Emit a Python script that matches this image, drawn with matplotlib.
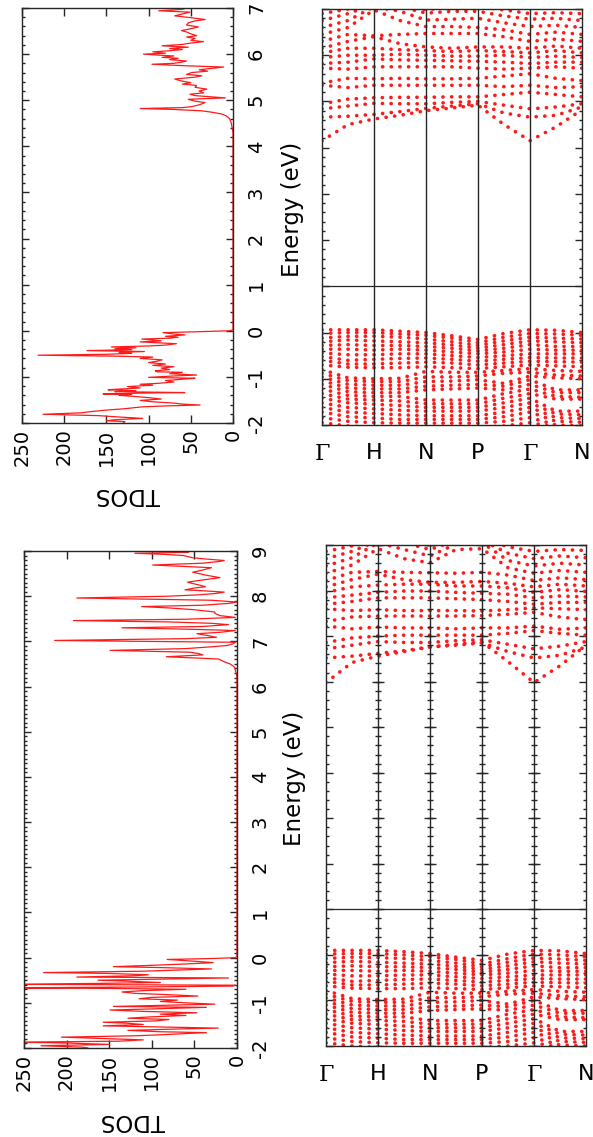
import numpy as np
import matplotlib
matplotlib.use('Agg')
import matplotlib.pyplot as plt
from matplotlib.ticker import MultipleLocator

plt.rcParams['font.family'] = 'DejaVu Sans'
plt.rcParams['axes.unicode_minus'] = False

# ---------------- data ----------------
# upper row: TDOS (energy in eV, states)
tdos_top_e = [-2.00, -1.97, -1.95, -1.93, -1.90, -1.87, -1.84, -1.81, -1.78, -1.75, -1.72, -1.69,
              -1.65, -1.63, -1.61, -1.59, -1.57, -1.54, -1.51, -1.48, -1.45, -1.42, -1.40, -1.38,
              -1.37, -1.35, -1.34, -1.32, -1.30, -1.28, -1.27, -1.24, -1.21, -1.18, -1.16, -1.14,
              -1.11, -1.08, -1.05, -1.03, -1.01, -0.98, -0.96, -0.93, -0.90, -0.89, -0.87, -0.84,
              -0.81, -0.78, -0.75, -0.72, -0.69, -0.66, -0.63, -0.60, -0.57, -0.55, -0.53, -0.51,
              -0.49, -0.47, -0.45, -0.43, -0.41, -0.39, -0.37, -0.35, -0.33, -0.31, -0.28, -0.26,
              -0.24, -0.22, -0.20, -0.18, -0.16, -0.14, -0.12, -0.09, -0.07, -0.04, -0.02, 0.00,
              0.02, 4.30, 4.40, 4.50, 4.60, 4.66, 4.70, 4.74, 4.77, 4.80, 4.82, 4.84, 4.86, 4.90,
              4.95, 4.98, 5.02, 5.05, 5.08, 5.10, 5.13, 5.16, 5.20, 5.24, 5.28, 5.32, 5.35, 5.38,
              5.42, 5.46, 5.50, 5.53, 5.56, 5.60, 5.63, 5.66, 5.70, 5.72, 5.75, 5.78, 5.80, 5.83,
              5.85, 5.88, 5.91, 5.93, 5.96, 5.98, 6.00, 6.02, 6.05, 6.07, 6.10, 6.12, 6.15, 6.18,
              6.21, 6.24, 6.27, 6.30, 6.34, 6.37, 6.40, 6.44, 6.48, 6.51, 6.55, 6.59, 6.63, 6.68,
              6.72, 6.75, 6.79, 6.83, 6.87, 6.91, 6.94, 6.97, 7.00]
tdos_top_v = [130, 128, 150, 140, 107, 135, 160, 225, 180, 167, 150, 128,
              108, 80, 39, 60, 69, 95, 110, 85, 100, 120, 135, 120,
              154, 105, 57, 140, 115, 148, 140, 110, 125, 95, 110, 89,
              70, 80, 60, 45, 100, 70, 43, 75, 60, 90, 92, 75,
              85, 70, 95, 80, 100, 90, 84, 110, 95, 140, 231, 150,
              120, 135, 105, 173, 120, 140, 115, 144, 100, 80, 67, 90,
              110, 85, 95, 108, 75, 65, 80, 57, 70, 83, 40, 5,
              0, 0, 1, 2, 4, 8, 13, 25, 37, 70, 110, 60, 49, 40,
              33, 45, 53, 9, 30, 45, 51, 35, 40, 31, 45, 43, 60, 50,
              62, 69, 45, 37, 55, 49, 30, 40, 20, 11, 60, 96, 70, 60,
              55, 75, 65, 84, 70, 90, 106, 80, 95, 77, 60, 75, 53, 84,
              60, 50, 35, 50, 45, 55, 43, 50, 55, 61, 50, 41, 55, 53,
              45, 33, 50, 69, 60, 51, 88, 60, 55]

# lower row: TDOS
tdos_bot_e = [-2.00, -1.98, -1.95, -1.92, -1.89, -1.87, -1.85, -1.82, -1.79, -1.76, -1.73, -1.70,
              -1.68, -1.66, -1.64, -1.61, -1.58, -1.56, -1.53, -1.51, -1.48, -1.45, -1.43, -1.40,
              -1.37, -1.34, -1.31, -1.28, -1.25, -1.22, -1.19, -1.16, -1.13, -1.10, -1.08, -1.05,
              -1.03, -1.00, -0.97, -0.94, -0.91, -0.88, -0.85, -0.82, -0.79, -0.76, -0.73, -0.70,
              -0.68, -0.67, -0.65, -0.63, -0.61, -0.59, -0.57, -0.55, -0.52, -0.50, -0.47, -0.45,
              -0.43, -0.40, -0.38, -0.35, -0.33, -0.30, -0.27, -0.25, -0.22, -0.20, -0.17, -0.14,
              -0.11, -0.08, -0.04, -0.02, 0.00, 0.03, 6.20, 6.30, 6.43, 6.50, 6.54, 6.61, 6.66,
              6.70, 6.73, 6.76, 6.80, 6.84, 6.88, 6.91, 6.95, 6.98, 7.02, 7.06, 7.09, 7.13, 7.17,
              7.20, 7.24, 7.27, 7.30, 7.33, 7.37, 7.40, 7.43, 7.46, 7.49, 7.53, 7.57, 7.62, 7.65,
              7.70, 7.74, 7.77, 7.80, 7.84, 7.87, 7.91, 7.96, 8.00, 8.03, 8.06, 8.09, 8.12, 8.14,
              8.18, 8.21, 8.25, 8.28, 8.31, 8.36, 8.41, 8.46, 8.50, 8.53, 8.58, 8.63, 8.69, 8.73,
              8.77, 8.79, 8.82, 8.85, 8.90, 8.93, 8.95, 8.97, 9.00]
tdos_bot_v = [175, 182, 230, 150, 200, 260, 140, 110, 160, 206, 120, 80,
              60, 36, 90, 128, 70, 22, 100, 157, 110, 130, 157, 95,
              80, 128, 100, 60, 90, 47, 110, 149, 90, 36, 145, 70,
              26, 60, 90, 70, 115, 100, 46, 80, 120, 135, 110, 60,
              160, 270, 120, 5, 2, 270, 160, 90, 130, 163, 70, 10,
              188, 120, 104, 150, 227, 110, 60, 30, 90, 145, 100, 60,
              28, 50, 82, 30, 2, 0, 0, 1, 3, 8, 14, 22, 83,
              40, 45, 55, 149, 60, 30, 11, 4, 2, 214, 60, 24, 35, 47,
              20, 2, 60, 135, 40, 10, 30, 80, 192, 60, 2, 20, 26, 26,
              50, 80, 112, 40, 10, 0, 30, 188, 80, 45, 25, 15, 40, 61,
              50, 37, 45, 52, 58, 40, 20, 35, 45, 52, 40, 30, 99, 40,
              20, 15, 35, 52, 63, 90, 120, 57, 60]

tdos_ticks = [0, 50, 100, 150, 200, 250]

# band structure: energies at G, G-H, H, H-N, N, N-P, P, P-G, G, G-N, N
k_knots = [0, 0.5, 1, 1.5, 2, 2.5, 3, 3.5, 4, 4.5, 5]
k_labels = ['Γ', 'H', 'N', 'P', 'Γ', 'N']
ref_level = 1.0

cb_top = [
    [4.15, 4.50, 4.62, 4.70, 4.80, 4.86, 4.92, 4.50, 4.15, 4.45, 4.82],
    [4.66, 4.68, 4.72, 4.78, 4.85, 4.90, 4.95, 4.75, 4.66, 4.70, 4.88],
    [4.84, 4.90, 4.96, 4.95, 4.95, 4.98, 5.00, 4.92, 4.84, 4.88, 4.95],
    [4.95, 5.05, 5.08, 5.09, 5.09, 5.10, 5.10, 5.15, 5.20, 5.15, 5.10],
    [5.35, 5.30, 5.35, 5.35, 5.35, 5.35, 5.35, 5.32, 5.35, 5.30, 5.32],
    [5.40, 5.50, 5.49, 5.50, 5.49, 5.49, 5.50, 5.55, 5.60, 5.50, 5.45],
    [5.72, 5.70, 5.75, 5.75, 5.75, 5.75, 5.72, 5.70, 5.72, 5.75, 5.72],
    [5.82, 5.85, 5.92, 5.90, 5.89, 5.88, 5.87, 5.85, 5.82, 5.85, 5.85],
    [5.95, 6.00, 6.00, 6.02, 6.00, 5.98, 5.98, 6.00, 5.95, 5.98, 5.95],
    [6.05, 6.15, 6.15, 6.12, 6.10, 6.08, 6.10, 6.08, 6.05, 6.10, 6.05],
    [6.15, 6.30, 6.40, 6.25, 6.18, 6.15, 6.18, 6.18, 6.15, 6.20, 6.15],
    [6.30, 6.45, 6.42, 6.45, 6.47, 6.47, 6.47, 6.40, 6.30, 6.35, 6.30],
    [6.45, 6.60, 6.98, 6.75, 6.62, 6.62, 6.60, 6.55, 6.45, 6.50, 6.45],
    [6.60, 6.75, 7.05, 6.95, 6.76, 6.78, 6.80, 6.70, 6.62, 6.65, 6.60],
    [6.75, 6.90, 7.10, 7.05, 6.91, 6.95, 6.95, 6.85, 6.78, 6.80, 6.75],
    [6.90, 7.00, 7.15, 7.10, 6.98, 7.05, 7.05, 6.98, 6.90, 6.92, 6.90],
]
vb_top = [
    [0.06, 0.06, 0.06, 0.03, 0.00, -0.07, -0.15, -0.02, 0.06, 0.05, 0.00],
    [-0.02, 0.00, 0.00, -0.03, -0.06, -0.12, -0.22, -0.10, -0.02, -0.03, -0.06],
    [-0.12, -0.08, -0.08, -0.10, -0.14, -0.20, -0.28, -0.18, -0.10, -0.12, -0.14],
    [-0.20, -0.16, -0.18, -0.20, -0.22, -0.27, -0.34, -0.26, -0.18, -0.20, -0.22],
    [-0.28, -0.26, -0.28, -0.28, -0.30, -0.34, -0.40, -0.34, -0.26, -0.30, -0.30],
    [-0.36, -0.36, -0.38, -0.36, -0.38, -0.42, -0.46, -0.42, -0.36, -0.38, -0.38],
    [-0.44, -0.48, -0.48, -0.46, -0.46, -0.50, -0.54, -0.50, -0.46, -0.46, -0.46],
    [-0.52, -0.60, -0.58, -0.56, -0.55, -0.58, -0.62, -0.58, -0.54, -0.55, -0.55],
    [-0.60, -0.68, -0.68, -0.66, -0.64, -0.66, -0.70, -0.66, -0.62, -0.63, -0.64],
    [-0.70, -0.75, -0.76, -0.76, -0.74, -0.76, -0.78, -0.74, -0.70, -0.72, -0.74],
    [-0.80, -0.98, -1.00, -0.99, -0.84, -0.86, -0.86, -0.82, -0.78, -0.82, -0.84],
    [-0.88, -1.04, -1.06, -1.06, -0.96, -0.96, -0.94, -0.88, -0.86, -0.92, -0.94],
    [-0.96, -1.12, -1.14, -1.14, -1.06, -1.05, -1.02, -1.10, -0.94, -0.98, -1.00],
    [-1.04, -1.20, -1.22, -1.22, -1.16, -1.14, -1.12, -1.16, -1.02, -1.24, -1.24],
    [-1.12, -1.28, -1.30, -1.30, -1.24, -1.22, -1.20, -1.24, -1.12, -1.30, -1.30],
    [-1.22, -1.36, -1.38, -1.38, -1.46, -1.46, -1.46, -1.32, -1.22, -1.38, -1.40],
    [-1.32, -1.44, -1.46, -1.48, -1.54, -1.54, -1.54, -1.42, -1.32, -1.44, -1.44],
    [-1.42, -1.52, -1.55, -1.58, -1.62, -1.62, -1.62, -1.52, -1.42, -1.70, -1.70],
    [-1.52, -1.62, -1.65, -1.68, -1.70, -1.70, -1.70, -1.62, -1.52, -1.76, -1.78],
    [-1.62, -1.72, -1.75, -1.78, -1.80, -1.80, -1.80, -1.72, -1.62, -1.84, -1.86],
    [-1.72, -1.82, -1.85, -1.88, -1.88, -1.88, -1.88, -1.82, -1.72, -1.92, -1.94],
    [-1.84, -1.92, -1.95, -1.96, -1.96, -1.96, -1.96, -1.92, -1.84, -2.00, -2.02],
    [-1.95, -2.02, -2.05, -2.05, -2.05, -2.05, -2.05, -2.02, -1.95, -2.05, -2.05],
]

cb_bot = [
    [5.98, 6.42, 6.56, 6.66, 6.76, 6.82, 6.87, 6.44, 5.98, 6.35, 6.80],
    [6.52, 6.56, 6.62, 6.68, 6.76, 6.80, 6.85, 6.66, 6.52, 6.58, 6.76],
    [6.72, 6.80, 6.88, 6.86, 6.86, 6.90, 6.92, 6.82, 6.72, 6.78, 6.88],
    [6.86, 6.96, 7.00, 7.02, 7.02, 7.02, 7.02, 7.06, 7.12, 7.06, 7.02],
    [7.22, 7.16, 7.20, 7.18, 7.18, 7.16, 7.18, 7.18, 7.22, 7.15, 7.18],
    [7.32, 7.42, 7.44, 7.44, 7.44, 7.44, 7.45, 7.48, 7.52, 7.42, 7.36],
    [7.60, 7.56, 7.58, 7.56, 7.56, 7.56, 7.55, 7.58, 7.62, 7.60, 7.58],
    [7.70, 7.76, 7.84, 7.84, 7.84, 7.82, 7.80, 7.76, 7.70, 7.74, 7.74],
    [7.84, 7.90, 7.96, 7.99, 7.99, 7.96, 7.94, 7.92, 7.84, 7.88, 7.86],
    [7.96, 8.08, 8.12, 8.14, 8.14, 8.10, 8.10, 8.06, 7.96, 8.02, 7.98],
    [8.08, 8.24, 8.36, 8.24, 8.18, 8.18, 8.20, 8.16, 8.08, 8.14, 8.10],
    [8.22, 8.40, 8.42, 8.40, 8.39, 8.38, 8.40, 8.34, 8.22, 8.28, 8.24],
    [8.38, 8.56, 8.92, 8.70, 8.61, 8.90, 8.92, 8.50, 8.38, 8.44, 8.40],
    [8.54, 8.72, 9.05, 8.90, 8.76, 9.02, 9.05, 8.66, 8.54, 8.60, 8.56],
    [8.70, 8.86, 9.10, 9.05, 8.90, 9.10, 9.10, 8.82, 8.70, 8.76, 8.72],
    [8.86, 8.98, 9.15, 9.10, 9.00, 9.15, 9.15, 8.96, 8.86, 8.90, 8.88],
]
vb_bot = [
    [0.10, 0.10, 0.10, 0.07, 0.03, -0.05, -0.12, 0.02, 0.10, 0.09, 0.03],
    [0.02, 0.03, 0.03, 0.00, -0.04, -0.10, -0.20, -0.08, 0.02, 0.00, -0.04],
    [-0.08, -0.05, -0.06, -0.08, -0.12, -0.18, -0.26, -0.16, -0.07, -0.09, -0.12],
    [-0.17, -0.14, -0.16, -0.18, -0.20, -0.25, -0.32, -0.24, -0.15, -0.18, -0.20],
    [-0.26, -0.24, -0.26, -0.26, -0.28, -0.32, -0.38, -0.32, -0.24, -0.28, -0.28],
    [-0.34, -0.34, -0.36, -0.34, -0.36, -0.40, -0.44, -0.40, -0.34, -0.36, -0.36],
    [-0.42, -0.46, -0.46, -0.44, -0.44, -0.48, -0.52, -0.48, -0.44, -0.44, -0.44],
    [-0.50, -0.58, -0.56, -0.54, -0.53, -0.56, -0.60, -0.56, -0.52, -0.53, -0.53],
    [-0.58, -0.66, -0.66, -0.64, -0.62, -0.64, -0.68, -0.64, -0.60, -0.61, -0.62],
    [-0.68, -0.73, -0.74, -0.74, -0.72, -0.74, -0.76, -0.72, -0.68, -0.70, -0.72],
    [-0.78, -0.96, -0.98, -0.97, -0.82, -0.84, -0.84, -0.80, -0.76, -0.80, -0.82],
    [-0.86, -1.02, -1.04, -1.04, -0.94, -0.94, -0.92, -0.86, -0.84, -0.90, -0.92],
    [-0.94, -1.10, -1.12, -1.12, -1.04, -1.03, -1.00, -1.08, -0.92, -0.96, -0.98],
    [-1.02, -1.18, -1.20, -1.20, -1.14, -1.12, -1.10, -1.14, -1.00, -1.22, -1.22],
    [-1.10, -1.26, -1.28, -1.28, -1.22, -1.20, -1.18, -1.22, -1.10, -1.28, -1.28],
    [-1.20, -1.34, -1.36, -1.36, -1.44, -1.44, -1.44, -1.30, -1.20, -1.36, -1.38],
    [-1.30, -1.42, -1.44, -1.46, -1.52, -1.52, -1.52, -1.40, -1.30, -1.42, -1.42],
    [-1.40, -1.50, -1.53, -1.56, -1.60, -1.60, -1.60, -1.50, -1.40, -1.68, -1.68],
    [-1.50, -1.60, -1.63, -1.66, -1.68, -1.68, -1.68, -1.60, -1.50, -1.74, -1.76],
    [-1.60, -1.70, -1.73, -1.76, -1.78, -1.78, -1.78, -1.70, -1.60, -1.82, -1.84],
    [-1.70, -1.80, -1.83, -1.86, -1.86, -1.86, -1.86, -1.80, -1.70, -1.90, -1.92],
    [-1.82, -1.90, -1.93, -1.94, -1.94, -1.94, -1.94, -1.90, -1.82, -1.98, -2.00],
    [-1.93, -2.00, -2.03, -2.03, -2.03, -2.03, -2.03, -2.00, -1.93, -2.03, -2.03],
]

AXCOL = '#262626'
RED = '#ff1a1a'


def styleSpines(ax):
    for s in ax.spines.values():
        s.set_color(AXCOL)
        s.set_linewidth(1.0)


# TDOS panel, drawn lying on its side (energy runs upwards)
def tdosPanel(ax, energy, dos, emax, minorStep):
    ax.plot(dos, energy, color=RED, lw=0.9)
    ax.set_xlim(250, 0)
    ax.set_ylim(-2, emax)
    ax.set_xticks(tdos_ticks)
    ax.set_xticklabels([str(t) for t in tdos_ticks])
    ax.yaxis.set_major_locator(MultipleLocator(1))
    ax.yaxis.set_minor_locator(MultipleLocator(minorStep))
    ax.tick_params(axis='x', which='major', direction='in', top=True, bottom=True,
                   length=6, width=1, color=AXCOL, labelsize=14, labelrotation=90, pad=4)
    ax.tick_params(axis='y', which='both', direction='in', left=True, right=True,
                   labelleft=False, labelright=True, labelsize=14, labelrotation=90,
                   width=1, color=AXCOL, pad=10)
    ax.tick_params(axis='y', which='major', length=5)
    ax.tick_params(axis='y', which='minor', length=2.5)
    for lbl in ax.get_yticklabels():
        lbl.set_va('center')
    styleSpines(ax)


# band structure panel
def bandPanel(ax, cbands, vbands, emax, lineTicks):
    for band in cbands + vbands:
        ax.plot(k_knots, band, color=RED, lw=2.6, ls=(0, (0.05, 2.35)),
                dash_capstyle='round')
    for kk in range(1, len(k_labels) - 1):
        ax.axvline(kk, color=AXCOL, lw=1.0)
    ax.axhline(ref_level, color=AXCOL, lw=0.9)
    ax.set_xlim(0, len(k_labels) - 1)
    ax.set_ylim(-2, emax)
    ax.set_xticks(range(len(k_labels)))
    ax.set_xticklabels(k_labels)
    for lbl in ax.get_xticklabels():
        if lbl.get_text() == 'Γ':
            lbl.set_family('DejaVu Serif')
    ax.tick_params(axis='x', length=0, labelsize=16, pad=13)
    ax.yaxis.set_major_locator(MultipleLocator(1))
    ax.yaxis.set_minor_locator(MultipleLocator(0.2))
    ax.tick_params(axis='y', which='both', direction='in', left=True, right=True,
                   labelleft=False, width=1, color=AXCOL)
    ax.tick_params(axis='y', which='major', length=5)
    ax.tick_params(axis='y', which='minor', length=2.5)
    if lineTicks:
        majorE = np.arange(-2, emax + 0.01, 1.0)
        minorE = np.arange(-2, emax + 0.01, 0.2)
        for kk in range(1, len(k_labels) - 1):
            ax.plot(np.full(len(minorE), kk), minorE, ls='none', marker='_',
                    ms=4.5, mew=1.0, color=AXCOL)
            ax.plot(np.full(len(majorE), kk), majorE, ls='none', marker='_',
                    ms=9, mew=1.0, color=AXCOL)
    styleSpines(ax)


fig = plt.figure(figsize=(5.93, 11.37), dpi=100)
W, H = 593.0, 1137.0


def box(x0, y0, x1, y1):
    return [x0 / W, 1 - y1 / H, (x1 - x0) / W, (y1 - y0) / H]


axTdosTop = fig.add_axes(box(22, 8, 233, 423))
axBandTop = fig.add_axes(box(322, 9, 582, 425))
axTdosBot = fig.add_axes(box(24, 551, 237, 1048))
axBandBot = fig.add_axes(box(326, 545, 586, 1046))

tdosPanel(axTdosTop, tdos_top_e, tdos_top_v, 7, 0.2)
tdosPanel(axTdosBot, tdos_bot_e, tdos_bot_v, 9, 0.1)
bandPanel(axBandTop, cb_top, vb_top, 7, False)
bandPanel(axBandBot, cb_bot, vb_bot, 9, True)

# axis titles, turned like the rest of the page
fig.text(292 / W, 1 - 209 / H, 'Energy (eV)', rotation=90, fontsize=16.5,
         ha='center', va='center')
fig.text(294 / W, 1 - 778 / H, 'Energy (eV)', rotation=90, fontsize=16.5,
         ha='center', va='center')
fig.text(128 / W, 1 - 495 / H, 'TDOS', rotation=180, fontsize=16.5,
         ha='center', va='center')
fig.text(133 / W, 1 - 1120 / H, 'TDOS', rotation=180, fontsize=16.5,
         ha='center', va='center')

fig.savefig('out.png', dpi=100, facecolor='white')
